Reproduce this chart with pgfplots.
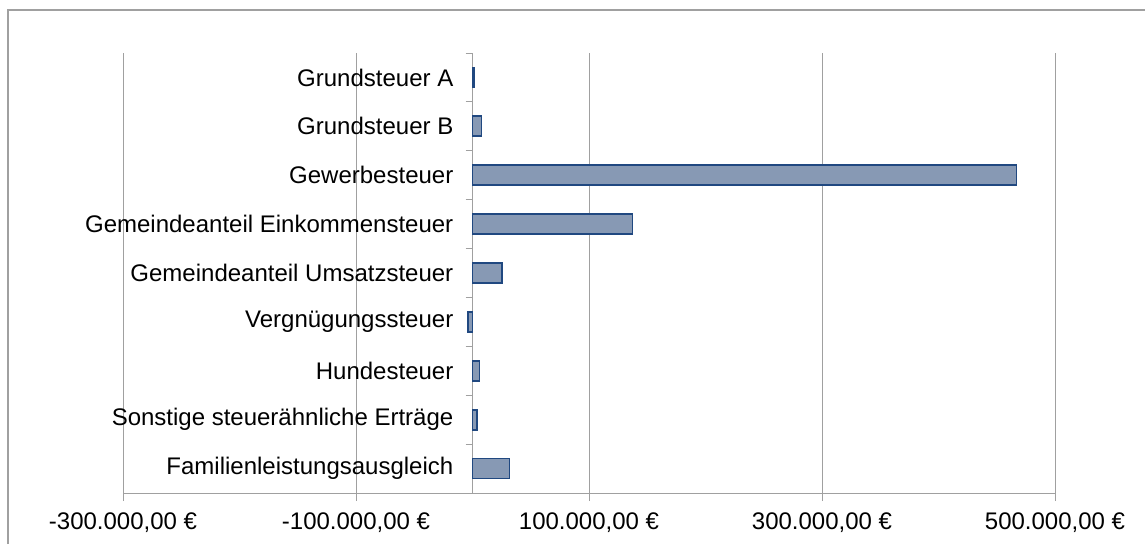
\documentclass[border=0pt]{standalone}
\usepackage{fontspec}
\setmainfont{Liberation Sans}
\usepackage{pgfplots}
\pgfplotsset{compat=1.18}
\definecolor{barfill}{RGB}{135,153,180}
\definecolor{baredge}{RGB}{32,72,128}
\definecolor{gridc}{RGB}{160,160,160}
\begin{document}
\begin{tikzpicture}
\useasboundingbox (0,0) rectangle (1145pt,544pt);
\draw[gridc, line width=1.2pt] (8pt,0pt) -- (8pt,534pt) -- (1146pt,534pt);
\begin{axis}[
  at={(123pt,51pt)}, anchor=south west,
  scale only axis, width=932pt, height=440pt,
  xmin=-300000, xmax=500000, ymin=-0.5, ymax=8.5,
  axis x line=bottom, axis y line=middle,
  axis line style={-, gridc, line width=1pt},
  xtick={-300000,-100000,100000,300000,500000},
  xticklabels={{-300.000,00 €},{-100.000,00 €},{100.000,00 €},{300.000,00 €},{500.000,00 €}},
  xmajorgrids, major grid style={gridc, line width=1pt},
  x tick style={gridc, line width=1pt},
  xtick align=outside, major x tick style={gridc}, 
  x tick label style={font=\fontsize{24}{28}\selectfont, anchor=north, inner sep=0pt, yshift=-12pt},
  ytick={0,...,8},
  yticklabels={Familienleistungsausgleich,Sonstige steuerähnliche Erträge,Hundesteuer,Vergnügungssteuer,Gemeindeanteil Umsatzsteuer,Gemeindeanteil Einkommensteuer,Gewerbesteuer,Grundsteuer B,Grundsteuer A},
  y tick label style={font=\fontsize{24}{28}\selectfont, anchor=east, inner sep=0pt, xshift=-11pt},
  minor ytick={-0.5,0.5,...,8.5},
  y tick style={gridc, line width=1pt},
  ytick align=outside,
  tickwidth=8pt, subtickwidth=7pt,
  major y tick style={draw=none},
  xbar, bar width=20pt,
  clip=false,
]
\addplot[xbar, fill=barfill, draw=baredge, line width=1.8pt] coordinates {
  (31800,0) (3700,1) (6000,2) (-3700,3) (25500,4) (137300,5) (467000,6) (7700,7) (1000,8)
};
\end{axis}
\end{tikzpicture}
\end{document}
